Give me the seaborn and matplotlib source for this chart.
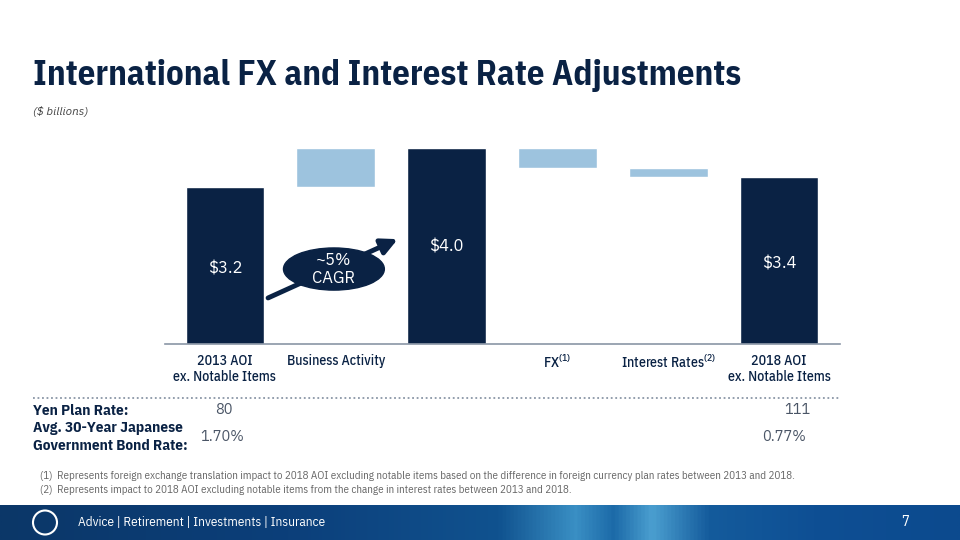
import numpy as np
import pandas as pd
import matplotlib
matplotlib.use("Agg")
import matplotlib.pyplot as plt
import seaborn as sns
from matplotlib.lines import Line2D
from matplotlib.patches import Ellipse

# ==============================
# data
# ==============================
steps = ["2013 AOI\nex. Notable Items", "Business Activity", "2018 subtotal",
         "FX$^{(1)}$", "Interest Rates$^{(2)}$", "2018 AOI\nex. Notable Items"]
tick_labels = ["2013 AOI\nex. Notable Items", "Business Activity", "",
               "FX$^{(1)}$", "Interest Rates$^{(2)}$", "2018 AOI\nex. Notable Items"]
kinds = ["total", "change", "total", "change", "change", "total"]
totals = [3.2, None, 4.0, None, None, 3.4]
changes = [None, 0.8, None, -0.4, -0.2, None]
total_labels = ["$3.2", None, "$4.0", None, None, "$3.4"]

yen_rate = ["80", "111"]
jgb_rate = ["1.70%", "0.77%"]
footnotes = [
    "(1)  Represents foreign exchange translation impact to 2018 AOI excluding notable items based on the difference in foreign currency plan rates between 2013 and 2018.",
    "(2)  Represents impact to 2018 AOI excluding notable items from the change in interest rates between 2013 and 2018.",
]

NAVY = "#0a2244"
LIGHT = "#9dc3de"
GRAY = "#4a5566"
COND = ["IBM Plex Sans Condensed", "DejaVu Sans"]
PLAIN = ["IBM Plex Sans", "DejaVu Sans"]

# running waterfall tops / bottoms
tops, bottoms = [], []
level = 0.0
for t, c in zip(totals, changes):
    if t is not None:
        level = t
        tops.append(t)
        bottoms.append(0.0)
    else:
        new = level + c
        tops.append(max(level, new))
        bottoms.append(min(level, new))
        level = new

df = pd.DataFrame({"step": steps, "kind": kinds, "top": tops, "bottom": bottoms})

sns.set_theme(style="white")
plt.rcParams["font.family"] = COND
plt.rcParams["mathtext.default"] = "regular"

fig = plt.figure(figsize=(9.6, 5.4), dpi=100)
ax = fig.add_axes([165 / 960, 1 - 344 / 540, 675 / 960, 196 / 540])

sns.barplot(data=df, x="step", y="top", hue="kind", palette={"total": NAVY, "change": LIGHT},
            width=0.71, saturation=1, legend=False, ax=ax, order=steps)
sns.barplot(data=df[df["kind"] == "change"], x="step", y="bottom", color="white",
            width=0.73, saturation=1, ax=ax, order=steps)

ax.set_xlim(-0.54, 5.55)
ax.set_ylim(0, 4.0)
ax.set_yticks([])
ax.set_ylabel("")
ax.set_xlabel("")
for s in ["top", "right", "left"]:
    ax.spines[s].set_visible(False)
ax.spines["bottom"].set_color("#8a96a6")
ax.spines["bottom"].set_linewidth(1.2)
ax.set_xticks(range(len(steps)))
ax.set_xticklabels(tick_labels, fontsize=10, color=NAVY, fontweight="medium", linespacing=1.25)
ax.tick_params(axis="x", length=0, pad=7)

label_y = {0: 1.55, 2: 1.98, 5: 1.65}
for i, lab in enumerate(total_labels):
    if lab:
        ax.text(i, label_y[i], lab, ha="center", va="center", color="white", fontsize=12,
                family=PLAIN)

# CAGR arrow + bubble
ax.annotate("", xy=(1.56, 2.14), xytext=(0.39, 0.94),
            arrowprops=dict(arrowstyle="-|>,head_length=0.8,head_width=0.4", lw=3.5,
                            color=NAVY, shrinkA=0, shrinkB=0),
            annotation_clip=False, zorder=4)
ax.add_patch(Ellipse((0.984, 1.53), 0.91, 0.86, color=NAVY, zorder=5, clip_on=False))
ax.text(0.984, 1.53, "~5%\nCAGR", ha="center", va="center", color="white", fontsize=12,
        zorder=6, linespacing=1.2, family=PLAIN)

# ==============================
# headers
# ==============================
fig.text(33 / 960, 1 - 85 / 540, "International FX and Interest Rate Adjustments",
         fontsize=25, fontweight="bold", color=NAVY, ha="left", va="baseline")
fig.text(33 / 960, 1 - 112 / 540, "($ billions)", fontsize=8.5, style="italic",
         color="#444444", ha="left", va="center", family=PLAIN)

# ==============================
# rate table
# ==============================
fig.add_artist(Line2D([33 / 960, 840 / 960], [1 - 398 / 540] * 2, transform=fig.transFigure,
                      linestyle=(0, (1, 1.5)), color="#8a96a6", linewidth=1.3))
fig.text(33 / 960, 1 - 411 / 540, "Yen Plan Rate:", fontsize=11, fontweight="bold",
         color=NAVY, va="center")
fig.text(33 / 960, 1 - 437 / 540, "Avg. 30-Year Japanese\nGovernment Bond Rate:", fontsize=11,
         fontweight="bold", color=NAVY, va="center", linespacing=1.4)
fig.text(224 / 960, 1 - 410 / 540, yen_rate[0], fontsize=10.5, color=GRAY, ha="center",
         va="center", family=PLAIN)
fig.text(797 / 960, 1 - 410 / 540, yen_rate[1], fontsize=10.5, color=GRAY, ha="center",
         va="center", family=PLAIN)
fig.text(222 / 960, 1 - 437 / 540, jgb_rate[0], fontsize=10.5, color=GRAY, ha="center",
         va="center", family=PLAIN)
fig.text(784 / 960, 1 - 437 / 540, jgb_rate[1], fontsize=10.5, color=GRAY, ha="center",
         va="center", family=PLAIN)

for k, note in enumerate(footnotes):
    fig.text(40 / 960, 1 - (476 + 14 * k) / 540, note, fontsize=7.9, color="#666666",
             ha="left", va="center")

# ==============================
# footer band
# ==============================
fax = fig.add_axes([0, 0, 1, 35 / 540])
grad = np.linspace(0, 1, 512)
band = np.vstack([grad, grad])
cmap = matplotlib.colors.LinearSegmentedColormap.from_list(
    "band", [(0.0, "#0b3768"), (0.3, "#0c3f7a"), (0.52, "#10528f"), (0.6, "#3a8fc4"),
             (0.64, "#1c6aa8"), (0.68, "#4b9fd0"), (0.74, "#145b9c"), (0.85, "#0e4f94"),
             (1.0, "#0c4a8e")])
fax.imshow(band, aspect="auto", cmap=cmap, extent=[0, 1, 0, 1])
fax.set_xlim(0, 1)
fax.set_ylim(0, 1)
fax.axis("off")
fax.add_patch(Ellipse((45 / 960, 0.5), 24 / 960, 24 / 35, facecolor="none",
                      edgecolor="white", linewidth=1.5))
fax.text(78 / 960, 0.5, "Advice | Retirement | Investments | Insurance", color="white",
         fontsize=9.5, va="center", ha="left")
fax.text(905 / 960, 0.5, "7", color="white", fontsize=10.5, va="center", ha="center")

fig.savefig("out.png", dpi=100)
